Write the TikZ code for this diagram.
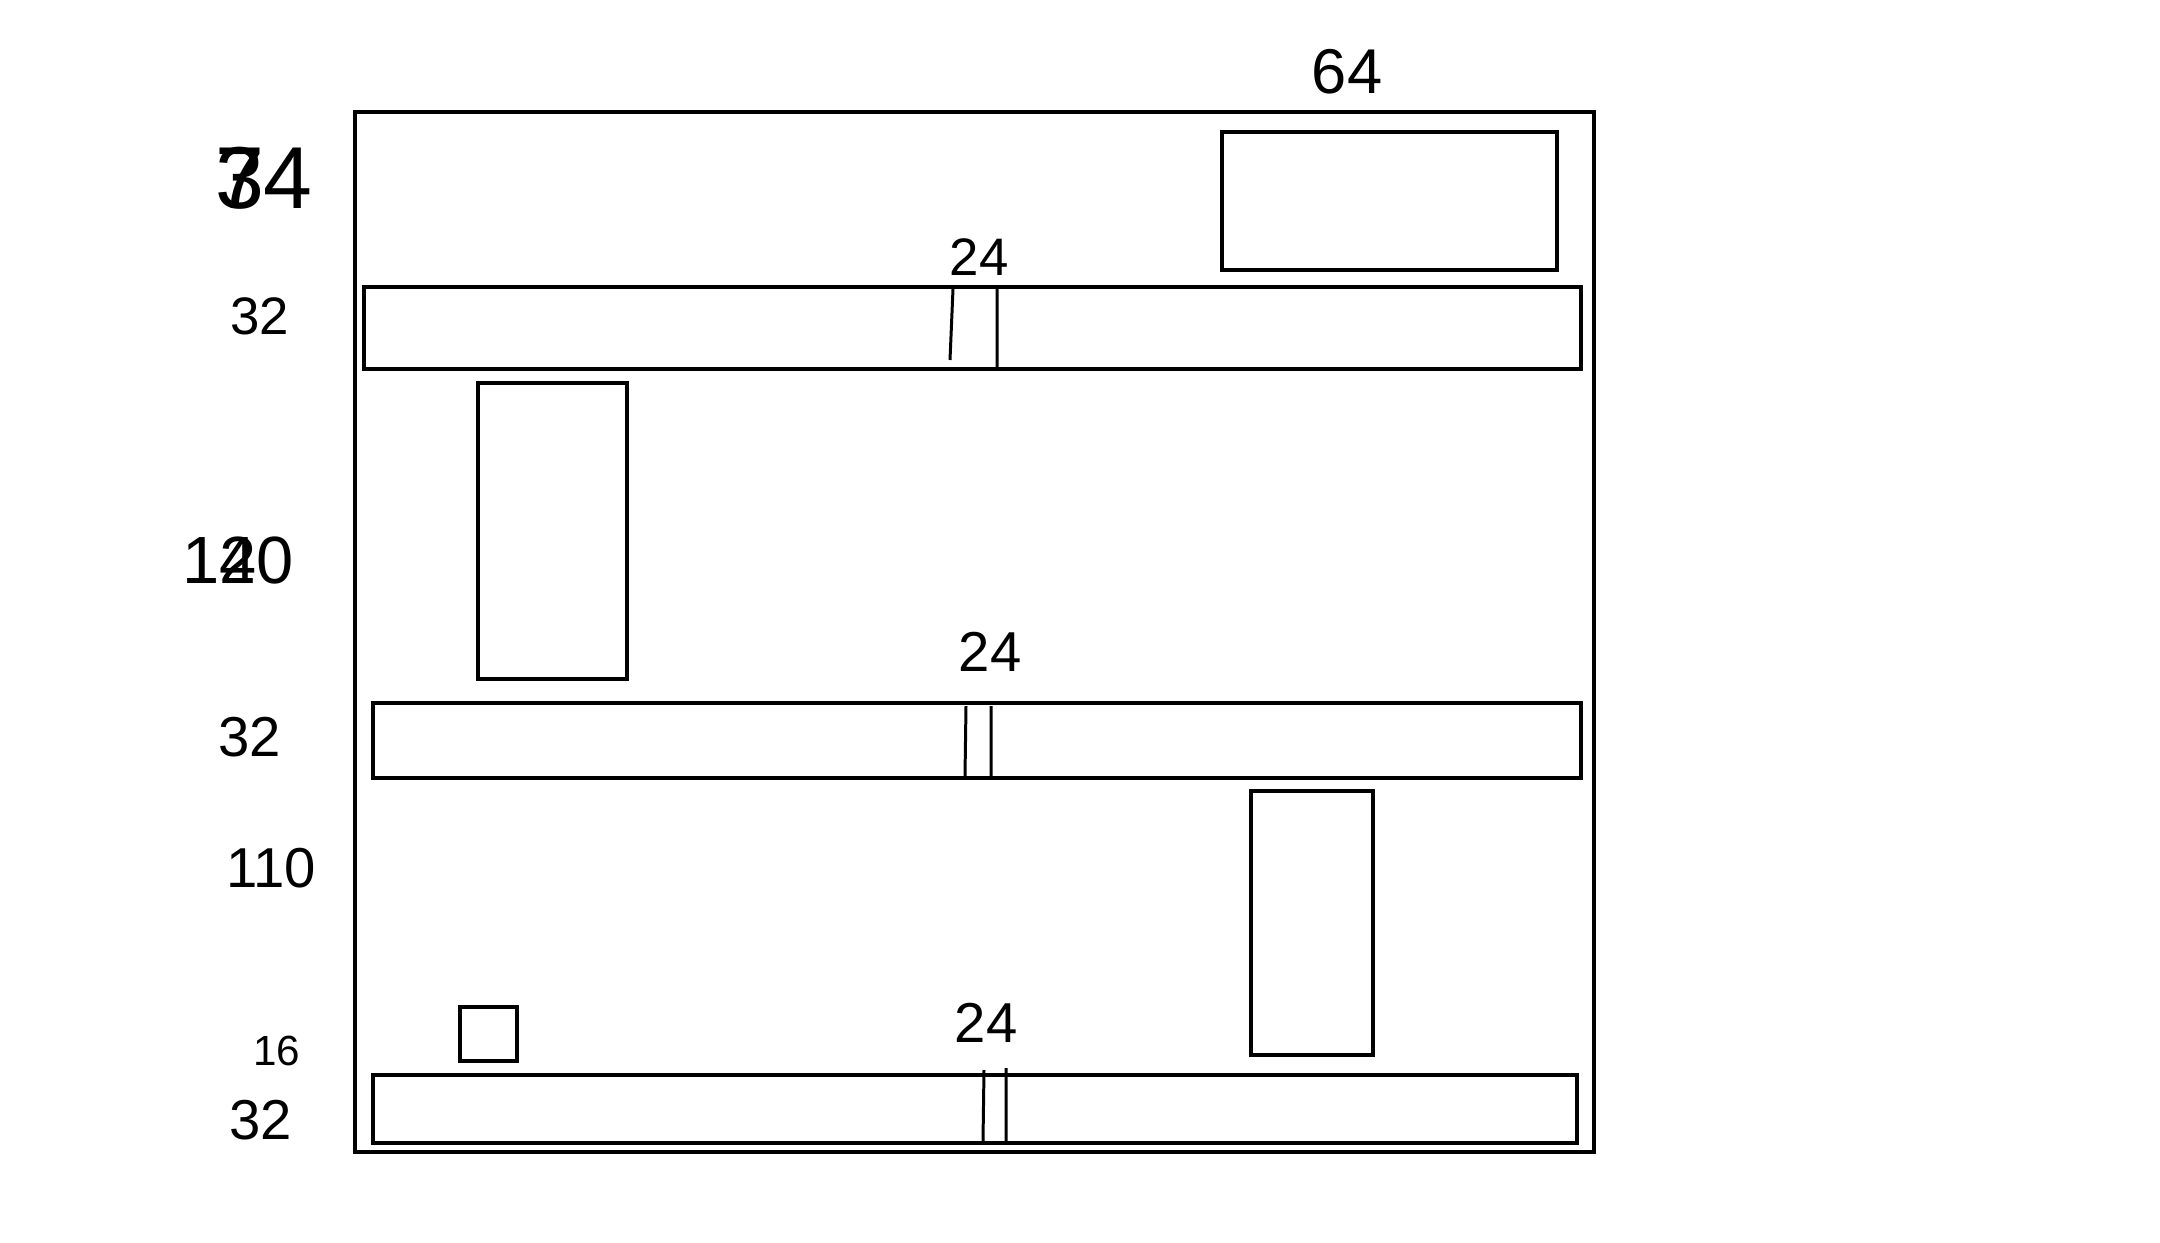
\documentclass[tikz,border=0pt]{standalone}
\usepackage{fontspec}
\setmainfont{Liberation Sans}

\begin{document}
\begin{tikzpicture}[x=0.01cm, y=-0.01cm,
  box/.style  = {line width=1.4pt},
  gap/.style  = {line width=0.85pt},
  hand/.style = {inner sep=0pt, font=\fontsize{#1}{#1}\selectfont}]
  \useasboundingbox (0,0) rectangle (2160,1242);
  % frame and blocks
  \draw[box] (355,112)  rectangle (1594,1152);
  \draw[box] (1222,132) rectangle (1557,270);
  \draw[box] (478,383)  rectangle (627,679);
  \draw[box] (1251,791) rectangle (1373,1055);
  \draw[box] (460,1007) rectangle (517,1061);
  % floors
  \draw[box] (364,287)  rectangle (1581,369);
  \draw[box] (373,703)  rectangle (1581,778);
  \draw[box] (373,1075) rectangle (1577,1143);
  % openings
  \draw[gap] (953,289) -- (950,360) (997,289) -- (997,368);
  \draw[gap] (966,706) -- (965,776) (991,706) -- (991,776);
  \draw[gap] (984,1070) -- (983,1141) (1006,1068) -- (1006,1141);
  % sizes
  \node[hand=15] (w1) at (979,257)  {24};
  \node[hand=16] (w2) at (990,652)  {24};
  \node[hand=16] (w3) at (986,1023) {24};
  \node[hand=18] (top) at (1347,72) {64};
  \node[hand=25] (h1) at (264,178)  {\rlap{3}74};
  \node[hand=15] (h2) at (260,316)  {32};
  \node[hand=19] (h3) at (238,560)  {1\rlap{2}40};
  \node[hand=16] (h4) at (250,737)  {32};
  \node[hand=16] (h5) at (271,868)  {110};
  \node[hand=12] (h6) at (277,1051) {16};
  \node[hand=16] (h7) at (261,1120) {32};
\end{tikzpicture}
\end{document}
